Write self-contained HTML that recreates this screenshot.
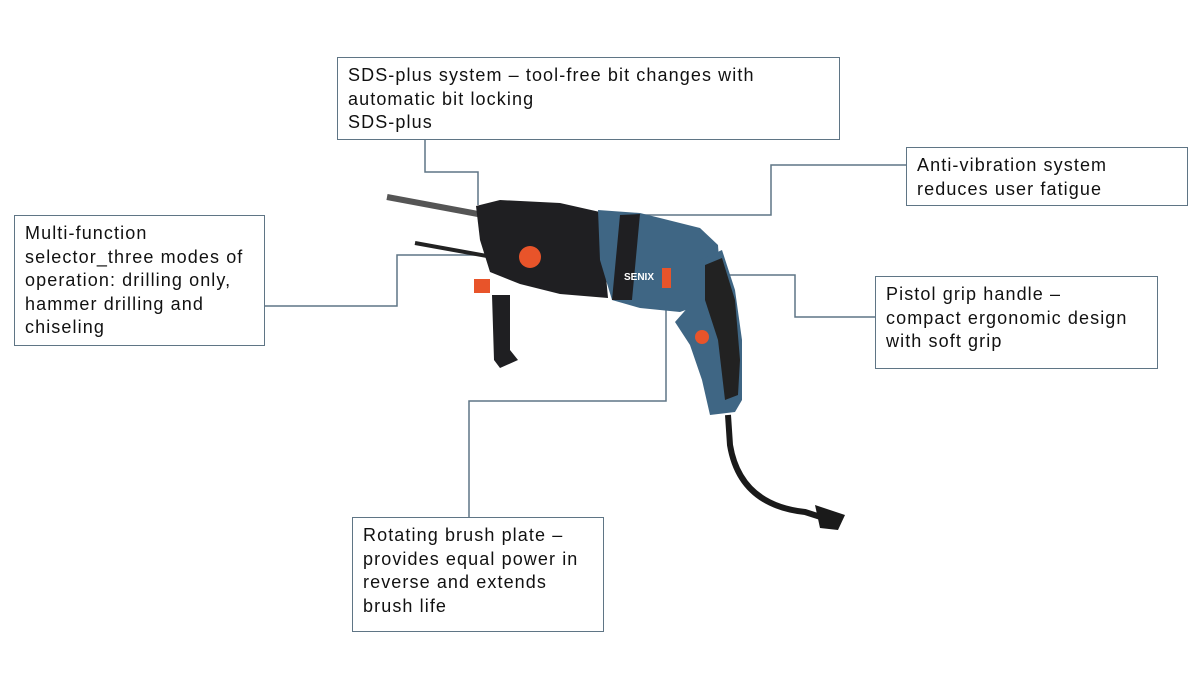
<!DOCTYPE html>
<html><head><meta charset="utf-8"><style>
body{margin:0;width:1200px;height:675px;background:#fff;position:relative;overflow:hidden;font-family:"Liberation Sans",sans-serif;}
.b{position:absolute;border:1.5px solid #5f7585;background:#fff;box-sizing:border-box;font-size:18px;letter-spacing:1.1px;line-height:23.5px;color:#111;padding:6px 10px;white-space:nowrap;}
svg{position:absolute;left:0;top:0}
</style></head><body>
<svg width="1200" height="675">
<g fill="none" stroke="#5f7585" stroke-width="1.5">
<polyline points="425,139 425,172 478,172 478,205"/>
<polyline points="906,165 771,165 771,215 637,215"/>
<polyline points="264,306 397,306 397,255 530,255"/>
<polyline points="718,275 795,275 795,317 875,317"/>
<polyline points="469,517 469,401 666,401 666,310"/>
</g>
<line x1="387" y1="197" x2="478" y2="214" stroke="#555" stroke-width="6"/>
<line x1="415" y1="243" x2="520" y2="262" stroke="#222" stroke-width="4"/>
<path d="M476,206 L500,200 L560,203 L600,212 L608,298 L560,294 L520,284 L490,272 L480,240 Z" fill="#1f1f22"/>
<path d="M598,210 L640,213 L700,228 L718,245 L720,275 L700,305 L680,312 L640,308 L612,300 L600,260 Z" fill="#3f6684"/>
<path d="M620,215 L640,214 L632,300 L612,300 Z" fill="#1f1f22"/>
<path d="M700,260 L722,250 L735,290 L742,340 L742,400 L735,412 L710,415 L702,380 L690,345 L675,322 L690,305 Z" fill="#3f6684"/>
<path d="M705,265 L722,258 L735,300 L740,360 L738,395 L725,400 L718,340 L705,300 Z" fill="#222"/>
<path d="M492,295 L510,295 L510,350 L518,360 L500,368 L494,360 Z" fill="#1f1f22"/>
<circle cx="530" cy="257" r="11" fill="#e8542a"/>
<rect x="474" y="279" width="16" height="14" fill="#e8542a"/>
<rect x="662" y="268" width="9" height="20" fill="#e8542a"/>
<circle cx="702" cy="337" r="7" fill="#e8542a"/>
<text x="624" y="280" font-size="10" font-weight="bold" fill="#fff" font-family="Liberation Sans">SENIX</text>
<path d="M728,415 L730,445 Q740,505 805,512 L830,520" fill="none" stroke="#1a1a1a" stroke-width="6"/>
<path d="M815,505 L845,515 L838,530 L820,528 Z" fill="#1a1a1a"/>
</svg>
<div class="b" style="left:337px;top:57px;width:503px;height:83px;">SDS-plus system – tool-free bit changes with<br>automatic bit locking<br>SDS-plus</div>
<div class="b" style="left:906px;top:147px;width:282px;height:59px;">Anti-vibration system<br>reduces user fatigue</div>
<div class="b" style="left:14px;top:215px;width:251px;height:131px;">Multi-function<br>selector_three modes of<br>operation: drilling only,<br>hammer drilling and<br>chiseling</div>
<div class="b" style="left:875px;top:276px;width:283px;height:93px;">Pistol grip handle –<br>compact ergonomic design<br>with soft grip</div>
<div class="b" style="left:352px;top:517px;width:252px;height:115px;">Rotating brush plate –<br>provides equal power in<br>reverse and extends<br>brush life</div>
</body></html>
